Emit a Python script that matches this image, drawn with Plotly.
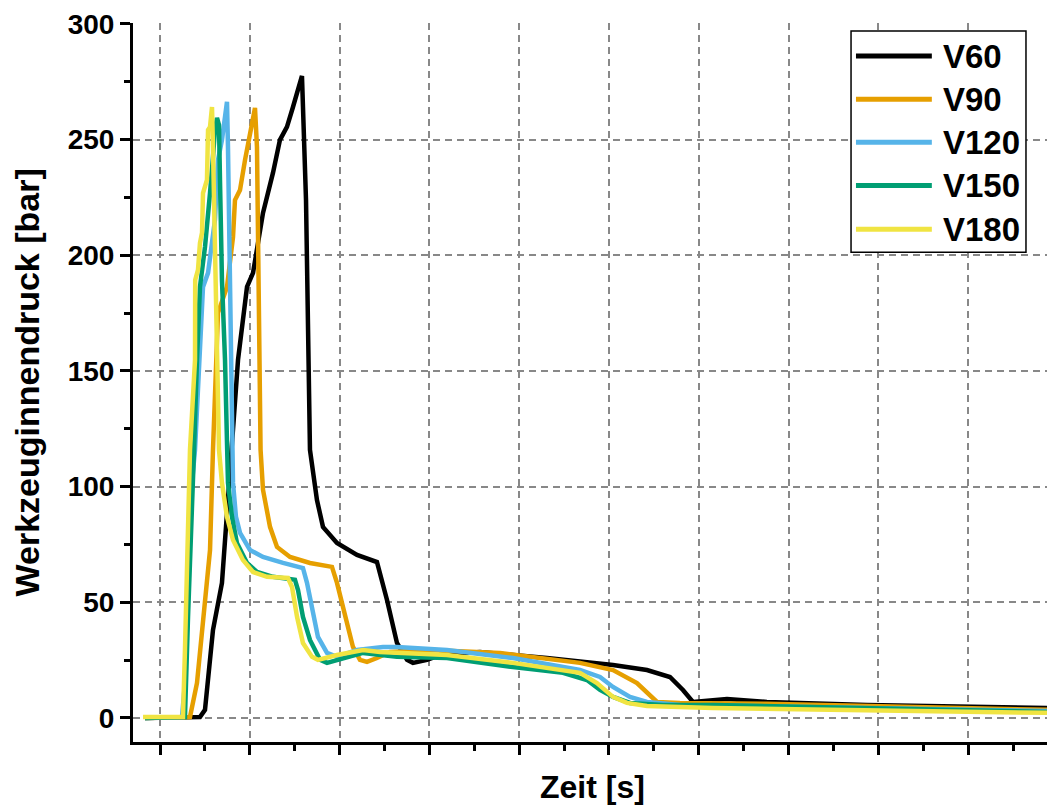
import plotly.graph_objects as go

# Werkzeuginnendruck curves for five injection speeds (time in axis units, pressure in bar)
v60_t = [-0.167, 0.445, 0.501, 0.590, 0.690, 0.746, 0.869, 0.969, 1.036, 1.147, 1.258, 1.336, 1.414,
         1.481, 1.581, 1.626, 1.670, 1.748, 1.815, 1.971, 2.194, 2.416, 2.528, 2.639, 2.751, 2.817,
         2.973, 3.118, 3.563, 4.310, 5.045, 5.423, 5.679, 5.824, 5.935, 6.314, 6.759, 7.873, 8.987, 9.878]
v60_p = [0.0, 0.4, 3.5, 38.0, 58.4, 86.9, 154.8, 186.3, 192.4, 218.3, 235.6, 249.9, 255.5,
         264.1, 277.5, 223.9, 115.9, 94.2, 82.6, 75.6, 70.5, 67.4, 51.0, 32.4, 25.1, 23.8,
         25.1, 27.2, 28.5, 25.9, 22.9, 20.7, 17.7, 12.1, 6.9, 8.2, 6.9, 5.6, 4.8, 4.3]

v90_t = [-0.167, 0.334, 0.412, 0.479, 0.557, 0.590, 0.646, 0.746, 0.813, 0.835, 0.891, 0.947, 1.024,
         1.058, 1.080, 1.091, 1.114, 1.120, 1.147, 1.225, 1.303, 1.448, 1.670, 1.915, 1.971, 2.082,
         2.149, 2.227, 2.305, 2.416, 2.561, 3.007, 3.786, 4.677, 5.045, 5.312, 5.423, 5.535, 5.791,
         6.759, 9.878]
v90_p = [0.0, 0.4, 15.1, 43.7, 72.6, 115.9, 175.1, 186.3, 207.9, 223.9, 228.2, 241.2, 257.2,
         263.7, 246.8, 203.6, 154.8, 115.9, 98.6, 82.6, 73.9, 69.6, 67.0, 65.3, 58.4, 41.1,
         30.7, 25.1, 24.2, 25.9, 28.5, 29.4, 28.1, 23.8, 20.7, 15.1, 10.8, 6.9, 6.5,
         6.1, 3.5]

v120_t = [-0.167, 0.245, 0.278, 0.312, 0.356, 0.390, 0.445, 0.479, 0.535, 0.579, 0.612, 0.646, 0.690,
          0.724, 0.746, 0.757, 0.780, 0.802, 0.808, 0.813, 0.846, 0.891, 1.002, 1.147, 1.370, 1.592,
          1.637, 1.693, 1.759, 1.860, 1.971, 2.194, 2.483, 2.639, 3.196, 3.931, 4.677, 4.900, 5.045,
          5.234, 5.423, 5.791, 9.878]
v120_p = [0.0, 0.4, 15.1, 58.4, 101.6, 115.9, 160.4, 186.3, 192.4, 206.6, 215.3, 241.2, 249.9,
          259.8, 266.3, 246.8, 189.3, 154.8, 115.9, 101.6, 86.9, 80.0, 72.6, 69.6, 67.0, 64.8,
          58.4, 46.7, 35.0, 28.1, 26.4, 29.4, 30.7, 30.7, 29.4, 25.9, 20.7, 17.7, 13.4,
          9.1, 6.9, 5.6, 3.0]

v150_t = [-0.167, 0.278, 0.312, 0.356, 0.379, 0.412, 0.445, 0.501, 0.535, 0.557, 0.590, 0.612, 0.635,
          0.657, 0.668, 0.690, 0.724, 0.746, 0.757, 0.802, 0.857, 0.969, 1.080, 1.258, 1.503, 1.537,
          1.592, 1.670, 1.782, 1.860, 1.971, 2.261, 2.639, 3.196, 3.931, 4.488, 4.755, 4.900, 5.045,
          5.234, 5.601, 6.158, 9.878]
v150_p = [0.0, 0.4, 43.7, 86.9, 115.9, 154.8, 186.3, 203.6, 215.3, 226.9, 242.5, 254.2, 259.4,
          256.3, 232.6, 189.3, 154.8, 115.9, 101.6, 86.9, 75.6, 67.0, 63.1, 61.0, 59.7, 55.3,
          43.7, 33.7, 25.1, 23.8, 25.1, 28.1, 26.4, 25.9, 22.0, 19.5, 16.4, 12.1, 9.1,
          6.5, 5.6, 5.6, 2.6]

v180_t = [-0.189, 0.256, 0.278, 0.301, 0.334, 0.390, 0.392, 0.423, 0.445, 0.468, 0.479, 0.523, 0.535,
          0.557, 0.579, 0.590, 0.612, 0.635, 0.657, 0.690, 0.746, 0.813, 0.924, 1.036, 1.192, 1.425,
          1.470, 1.526, 1.592, 1.693, 1.759, 1.971, 2.261, 2.450, 3.196, 3.931, 4.677, 4.866, 5.045,
          5.200, 5.423, 6.158, 9.878]
v180_p = [0.4, 0.4, 29.4, 72.6, 115.9, 154.8, 189.3, 193.7, 205.3, 209.7, 226.9, 232.6, 254.2,
          255.5, 264.1, 246.8, 203.6, 154.8, 115.9, 101.6, 86.9, 76.9, 68.3, 63.1, 61.0, 60.5,
          56.6, 43.7, 32.4, 26.4, 25.1, 27.2, 29.4, 28.5, 27.2, 23.8, 19.5, 15.1, 9.1,
          6.5, 5.2, 4.3, 2.2]

series_names = ["V60", "V90", "V120", "V150", "V180"]
series_t = [v60_t, v90_t, v120_t, v150_t, v180_t]
series_p = [v60_p, v90_p, v120_p, v150_p, v180_p]
series_colors = ["#000000", "#E69F00", "#56B4E9", "#009E73", "#F0E442"]

y_ticks = [0, 50, 100, 150, 200, 250, 300]
x_ticks = list(range(0, 10))

FONT = "Arial, 'Liberation Sans', Helvetica, sans-serif"

fig = go.Figure()
for name, t, p, c in zip(series_names, series_t, series_p, series_colors):
    fig.add_trace(go.Scatter(x=t, y=p, mode="lines", name=name,
                             line=dict(color=c, width=4.5), showlegend=False))

grid_dash = "7px,5px"
fig.update_xaxes(
    range=[-0.3007, 9.878], tickvals=x_ticks, showticklabels=False,
    ticks="outside", ticklen=10, tickwidth=3, tickcolor="black",
    showline=True, linecolor="black", linewidth=3,
    showgrid=True, gridcolor="#888888", gridwidth=2, griddash=grid_dash,
    zeroline=False,
    minor=dict(dtick=0.5, tick0=0, ticks="outside", ticklen=6, tickwidth=3,
               tickcolor="black", showgrid=False),
)
fig.update_yaxes(
    range=[-10.4, 300.4], tickvals=y_ticks,
    ticks="outside", ticklen=10, tickwidth=3, tickcolor="black",
    showline=True, linecolor="black", linewidth=3,
    showgrid=True, gridcolor="#888888", gridwidth=2, griddash=grid_dash,
    zeroline=False,
    tickfont=dict(family=FONT, size=28, color="black", weight="bold"),
    minor=dict(dtick=25, tick0=0, ticks="outside", ticklen=6, tickwidth=3,
               tickcolor="black", showgrid=False),
)

# Axis titles
fig.add_annotation(text="<b>Werkzeuginnendruck [bar]</b>", xref="paper", yref="paper",
                   x=-0.116, y=0.5, xanchor="center", yanchor="middle", textangle=-90,
                   showarrow=False, font=dict(family=FONT, size=34, color="black"))
fig.add_annotation(text="<b>Zeit [s]</b>", xref="paper", yref="paper",
                   x=0.503, y=-0.0627, xanchor="center", yanchor="middle", showarrow=False,
                   font=dict(family=FONT, size=32, color="black"))

# Legend box with long line samples
fig.add_shape(type="rect", xref="paper", yref="paper", x0=0.7856, x1=0.977, y0=0.681, y1=0.9889,
              line=dict(color="black", width=1.5), fillcolor="white", layer="above")
row_y = [0.954, 0.894, 0.834, 0.774, 0.713]
for name, c, ry in zip(series_names, series_colors, row_y):
    fig.add_shape(type="line", xref="paper", yref="paper", x0=0.791, x1=0.874, y0=ry, y1=ry,
                  line=dict(color=c, width=5), layer="above")
    fig.add_annotation(text=f"<b>{name}</b>", xref="paper", yref="paper", x=0.884, y=ry,
                       xanchor="left", yanchor="middle", showarrow=False,
                       font=dict(family=FONT, size=33, color="black"))

fig.update_layout(
    width=1047, height=810,
    margin=dict(l=133, r=0, t=23, b=68),
    plot_bgcolor="white", paper_bgcolor="white",
    showlegend=False,
)

fig.write_html("out.html")
